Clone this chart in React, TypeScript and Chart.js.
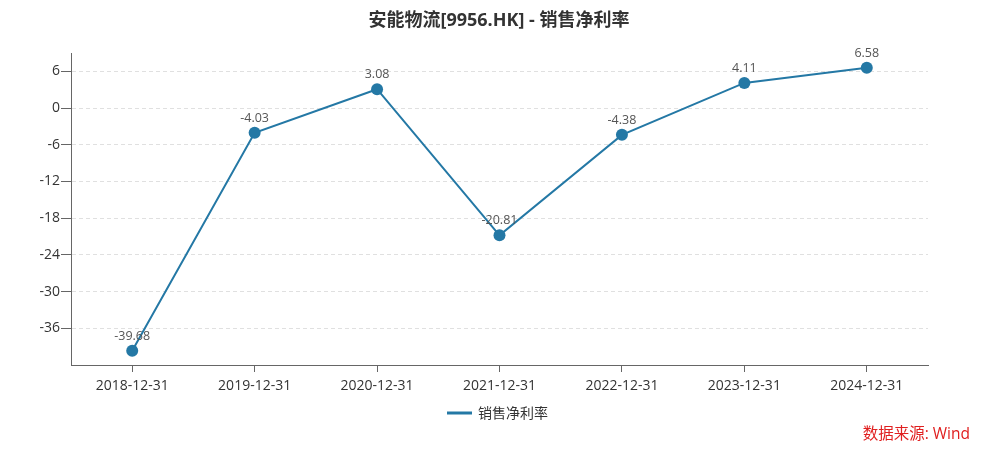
import React, { useEffect, useRef } from "react";
import { Chart, registerables } from "chart.js";

Chart.register(...registerables);

const categories = ["2018-12-31", "2019-12-31", "2020-12-31", "2021-12-31", "2022-12-31", "2023-12-31", "2024-12-31"];
const netMargin = [-39.68, -4.03, 3.08, -20.81, -4.38, 4.11, 6.58];
const yTicks = [-36, -30, -24, -18, -12, -6, 0, 6];
const seriesName = "销售净利率";
const titleText = "安能物流[9956.HK] - 销售净利率";
const sourceText = "数据来源: Wind";

const FONT = '"Open Sans", "Microsoft YaHei", "Noto Sans CJK SC", sans-serif';
const CJK = '"Microsoft YaHei", "Noto Sans CJK SC", sans-serif';
const COLOR = "#2478a5";

export default function App() {
  const ref = useRef<HTMLCanvasElement | null>(null);
  useEffect(() => {
    if (!ref.current) return;
    const decor = {
      id: "decor",
      afterDraw(chart: any) {
        const ctx = chart.ctx;
        ctx.save();
        ctx.font = `bold 18px ${FONT}`;
        ctx.fillStyle = "#333";
        ctx.textAlign = "center";
        ctx.textBaseline = "middle";
        ctx.fillText(titleText, 499, 21);
        ctx.strokeStyle = COLOR;
        ctx.lineWidth = 3;
        ctx.beginPath();
        ctx.moveTo(447, 413);
        ctx.lineTo(472, 413);
        ctx.stroke();
        ctx.font = `14px ${CJK}`;
        ctx.fillStyle = "#333";
        ctx.textAlign = "left";
        ctx.fillText(seriesName, 478, 413);
        ctx.font = `15.5px ${FONT}`;
        ctx.fillStyle = "#e02020";
        ctx.textAlign = "right";
        ctx.fillText(sourceText, 970, 435);
        ctx.restore();
      },
      afterDatasetsDraw(chart: any) {
        const ctx = chart.ctx;
        const meta = chart.getDatasetMeta(0);
        ctx.save();
        ctx.font = `12.5px ${FONT}`;
        ctx.fillStyle = "#555";
        ctx.textAlign = "center";
        ctx.textBaseline = "alphabetic";
        meta.data.forEach((pt: any, i: number) => {
          ctx.fillText(netMargin[i].toFixed(2), pt.x, pt.y - 11);
        });
        ctx.restore();
      },
    };
    const chart = new Chart(ref.current, {
      type: "line",
      data: {
        labels: categories,
        datasets: [
          {
            label: seriesName,
            data: netMargin,
            borderColor: COLOR,
            backgroundColor: COLOR,
            borderWidth: 2,
            pointRadius: 6,
            pointHoverRadius: 6,
            pointBorderWidth: 0,
            pointStyle: "circle",
            tension: 0,
          },
        ],
      },
      options: {
        responsive: false,
        animation: false,
        layout: { padding: { left: 0, right: 71, top: 53, bottom: 58 } },
        plugins: {
          title: { display: false },
          tooltip: { enabled: false },
          legend: { display: false },
        },
        scales: {
          x: {
            type: "category",
            offset: true,
            grid: {
              display: true,
              drawOnChartArea: false,
              drawTicks: true,
              tickLength: 7,
              tickColor: "#666",
              offset: false,
            },
            border: { display: true, color: "#666", width: 1 },
            ticks: { color: "#333", font: { size: 14, family: FONT }, padding: 6, maxRotation: 0 },
            afterFit: (s: any) => {
              s.height = 30;
            },
          },
          y: {
            min: -42,
            max: 9,
            afterBuildTicks: (s: any) => {
              s.ticks = yTicks.map((v) => ({ value: v }));
            },
            grid: {
              color: "#e0e0e0",
              drawTicks: true,
              tickLength: 10,
              tickColor: "#666",
              tickBorderDash: [],
            } as any,
            border: { display: true, color: "#666", width: 1, dash: [4, 3] } as any,
            ticks: { color: "#333", font: { size: 14, family: FONT }, padding: 1 },
            afterFit: (s: any) => {
              s.width = 71;
            },
          },
        },
      },
      plugins: [decor],
    } as any);
    return () => chart.destroy();
  }, []);
  return (
    <div style={{ position: "absolute", left: 0, top: 0, width: 999, height: 453, background: "#fff" }}>
      <canvas ref={ref} width={999} height={453} />
    </div>
  );
}
